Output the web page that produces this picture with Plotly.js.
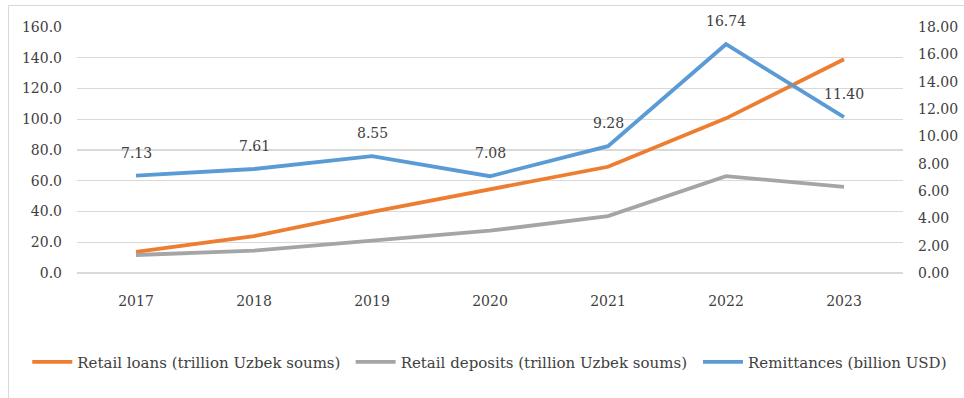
<!DOCTYPE html>
<html>
<head>
<meta charset="utf-8">
<script src="https://cdn.plot.ly/plotly-3.0.1.min.js"></script>
<style>
  html, body { margin: 0; padding: 0; background: #fff; }
  #wrap { position: relative; width: 964px; height: 398px; overflow: hidden; }
  #frame { position: absolute; left: 8px; top: 5px; width: 1000px; height: 500px; border: 1px solid #d9d9d9; box-sizing: border-box; }
  #chart { position: absolute; left: 0; top: 0; width: 964px; height: 398px; }
</style>
</head>
<body>
<div id="wrap">
  <div id="frame"></div>
  <div id="chart"></div>
</div>
<script>
const years = ["2017", "2018", "2019", "2020", "2021", "2022", "2023"];
const retailLoans = [13.7, 24.0, 39.8, 54.4, 69.1, 100.6, 139.0];
const retailDeposits = [11.7, 14.5, 21.0, 27.5, 37.0, 63.0, 56.0];
const remittances = [7.13, 7.61, 8.55, 7.08, 9.28, 16.74, 11.40];
const seriesNames = [
  "Retail loans (trillion Uzbek soums)",
  "Retail deposits (trillion Uzbek soums)",
  "Remittances (billion USD)"
];

const FONT = "DejaVu Serif, Liberation Serif, serif";
const TXT = "#404040";

const traces = [
  { x: years, y: retailLoans, name: seriesNames[0], type: "scatter", mode: "lines",
    line: { color: "#ED7D31", width: 3.8 }, yaxis: "y", legend: "legend" },
  { x: years, y: retailDeposits, name: seriesNames[1], type: "scatter", mode: "lines",
    line: { color: "#A5A5A5", width: 3.8 }, yaxis: "y", legend: "legend2" },
  { x: years, y: remittances, name: seriesNames[2], type: "scatter", mode: "lines",
    line: { color: "#5B9BD5", width: 3.8 }, yaxis: "y2", legend: "legend3" }
];

// category index used as x so the label sits on the matching category
const annotations = years.map((yr, i) => ({
  x: i, y: remittances[i], xref: "x", yref: "y2",
  text: remittances[i].toFixed(2), showarrow: false, yshift: 23,
  font: { family: FONT, size: 14, color: TXT }
}));

function legendAt(xp) {
  return {
    orientation: "h", x: xp, xanchor: "left", y: -0.362, yanchor: "middle",
    font: { family: FONT, size: 15, color: TXT },
    itemwidth: 40, bgcolor: "rgba(0,0,0,0)"
  };
}

const layout = {
  width: 964, height: 398,
  margin: { l: 77, r: 57, t: 27, b: 125 },
  paper_bgcolor: "rgba(0,0,0,0)",
  plot_bgcolor: "rgba(0,0,0,0)",
  font: { family: FONT, size: 14, color: TXT },
  showlegend: true,
  xaxis: {
    type: "category", range: [-0.5, 6.5],
    showgrid: false, zeroline: false, showline: false, ticks: "",
    ticklabelstandoff: 18,
    tickfont: { family: FONT, size: 14, color: TXT }
  },
  yaxis: {
    range: [0, 160], dtick: 20, tick0: 0, tickformat: ".1f",
    showgrid: true, gridcolor: "#d9d9d9", gridwidth: 1.3,
    zeroline: true, zerolinecolor: "#d9d9d9", zerolinewidth: 1.3,
    showline: false, ticks: "", ticklabelstandoff: 14,
    tickfont: { family: FONT, size: 14, color: TXT }
  },
  yaxis2: {
    overlaying: "y", side: "right",
    range: [0, 18], dtick: 2, tick0: 0, tickformat: ".2f",
    showgrid: false, zeroline: false, showline: false, ticks: "",
    ticklabelstandoff: 14,
    tickfont: { family: FONT, size: 14, color: TXT }
  },
  legend: legendAt(-0.0602),
  legend2: legendAt(0.3313),
  legend3: legendAt(0.7518),
  annotations: annotations
};

Plotly.newPlot("chart", traces, layout, { displayModeBar: false, staticPlot: true });
</script>
</body>
</html>
